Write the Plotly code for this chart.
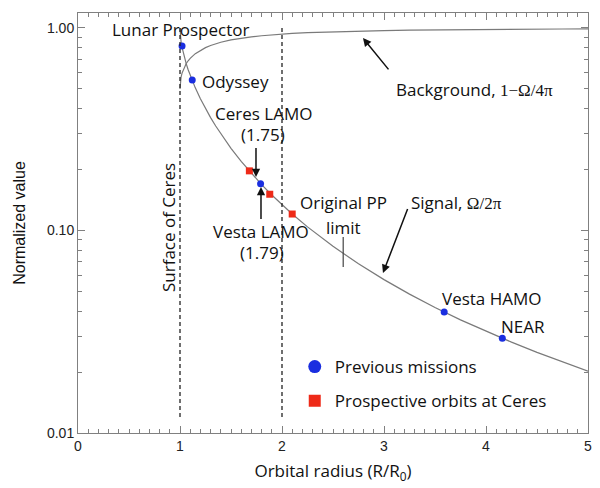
import math
import plotly.graph_objects as go

# ---- data ----
radius = [1.0, 1.003, 1.005, 1.01, 1.02, 1.04, 1.06, 1.08, 1.10, 1.15, 1.20, 1.25, 1.30, 1.35,
          1.40, 1.50, 1.60, 1.70, 1.80, 1.90, 2.00, 2.10, 2.25, 2.50, 2.75, 3.00, 3.25, 3.50,
          3.75, 4.00, 4.25, 4.50, 4.75, 5.00]
signal = [1.0, 0.9227, 0.9004, 0.8596, 0.8030, 0.7253, 0.6683, 0.6223, 0.5834, 0.5062, 0.4472,
          0.4000, 0.3610, 0.3282, 0.3001, 0.2546, 0.2194, 0.1913, 0.1685, 0.1497, 0.1340, 0.1207,
          0.1042, 0.0835, 0.0685, 0.0572, 0.0485, 0.0417, 0.0362, 0.0318, 0.0281, 0.0250,
          0.0224, 0.0202]
background = [0.5, 0.5386, 0.5498, 0.5702, 0.5985, 0.6373, 0.6658, 0.6889, 0.7083, 0.7469, 0.7764,
              0.8000, 0.8195, 0.8359, 0.8499, 0.8727, 0.8903, 0.9043, 0.9157, 0.9251, 0.9330,
              0.9397, 0.9479, 0.9583, 0.9658, 0.9714, 0.9757, 0.9792, 0.9819, 0.9841, 0.9860,
              0.9875, 0.9888, 0.9899]

mission_names = ["Lunar Prospector", "Odyssey", "Vesta LAMO", "Vesta HAMO", "NEAR"]
mission_r = [1.02, 1.12, 1.79, 3.59, 4.16]
mission_v = [0.815, 0.554, 0.170, 0.0396, 0.0294]

prospective_r = [1.68, 1.88, 2.10]
prospective_v = [0.197, 0.151, 0.1206]

ref_lines_r = [1, 2]            # dashed verticals (surface of Ceres, r = 2)
ref_line_y = [0.012, 1.0]
pp_limit_r = 2.6
pp_limit_y = [0.066, 0.0929]

x_ticks = [0, 1, 2, 3, 4, 5]
y_ticks = [0.01, 0.1, 1.0]
y_tick_text = ["0.01", "0.10", "1.00"]
y_minor = [0.02, 0.03, 0.04, 0.05, 0.06, 0.07, 0.08, 0.09,
           0.2, 0.3, 0.4, 0.5, 0.6, 0.7, 0.8, 0.9]

TXT = "Open Sans"
BLUE = "#1a2ee0"
RED = "#ee2a18"
LINE = "#7a7a7a"
AX = "#808080"

fig = go.Figure()

fig.add_trace(go.Scatter(x=radius, y=background, mode="lines",
                         line=dict(color=LINE, width=1.2), showlegend=False, hoverinfo="skip"))
fig.add_trace(go.Scatter(x=radius, y=signal, mode="lines",
                         line=dict(color=LINE, width=1.2), showlegend=False, hoverinfo="skip"))
fig.add_trace(go.Scatter(x=mission_r, y=mission_v, mode="markers", text=mission_names,
                         marker=dict(color=BLUE, size=7, symbol="circle"), showlegend=False))
fig.add_trace(go.Scatter(x=prospective_r, y=prospective_v, mode="markers",
                         marker=dict(color=RED, size=7, symbol="square"), showlegend=False))

# legend entries
fig.add_trace(go.Scatter(x=[None], y=[None], mode="markers", name="Previous missions",
                         legendgroup="a",
                         marker=dict(color=BLUE, size=13, symbol="circle")))
fig.add_trace(go.Scatter(x=[None], y=[None], mode="markers", name="Prospective orbits at Ceres",
                         legendgroup="b",
                         marker=dict(color=RED, size=12, symbol="square")))

# invisible trace on mirror axes (top / right ticks)
fig.add_trace(go.Scatter(x=[None], y=[None], xaxis="x2", yaxis="y2", showlegend=False,
                         hoverinfo="skip"))

# dashed vertical reference lines
for r in ref_lines_r:
    fig.add_shape(type="line", xref="x", yref="y", x0=r, x1=r,
                  y0=ref_line_y[0], y1=ref_line_y[1],
                  line=dict(color="#222", width=1.3, dash="4px,3px"))
fig.add_shape(type="line", xref="x", yref="y", x0=pp_limit_r, x1=pp_limit_r,
              y0=pp_limit_y[0], y1=pp_limit_y[1],
              line=dict(color="#444", width=1.2))

def label(text, x, ly, xanchor="center", angle=0, size=17):
    fig.add_annotation(x=x, y=ly, xref="x", yref="y", text=text, showarrow=False,
                       xanchor=xanchor, yanchor="middle", textangle=angle,
                       font=dict(family=TXT, size=size, color="#111"))

label("Lunar Prospector", 1.0, -0.0099)
label("Odyssey", 1.196, -0.262, xanchor="left")
label("Ceres LAMO", 1.814, -0.420)
label("(1.75)", 1.814, -0.528)
label("Vesta LAMO", 1.794, -1.007)
label("(1.79)", 1.804, -1.111)
label("Original PP", 2.598, -0.864)
label("limit", 2.598, -0.983)
SER = "font-family:'Liberation Serif'"
label("Signal, <span style=\"%s\">Ω/2π</span>" % SER, 3.706, -0.864)
label("Background, <span style=\"%s\">1−Ω/4π</span>" % SER, 3.892, -0.306)
label("Vesta HAMO", 4.059, -1.338)
label("NEAR", 4.363, -1.472)
label("Surface of Ceres", 0.882, -0.983, angle=-90)

def arrow(x, ly, ax, ay):
    fig.add_annotation(x=x, y=ly, xref="x", yref="y", ax=ax, ay=ay, text=" ",
                       font=dict(size=1), borderpad=0,
                       showarrow=True, arrowhead=2, arrowsize=1.1, arrowwidth=1.5,
                       arrowcolor="#111")

arrow(2.794, -0.0494, 26, 32)
arrow(2.99, -1.210, 25, -65)
arrow(1.745, -0.736, 0, -30)
arrow(1.794, -0.785, 0, 33)

xcommon = dict(range=[0, 5], tickvals=x_ticks, ticks="inside", ticklen=7, tickcolor=AX,
               showline=True, linecolor=AX, linewidth=1, showgrid=False, zeroline=False,
               minor=dict(ticks="inside", dtick=0.1, ticklen=4, tickcolor=AX, showgrid=False))
ycommon = dict(type="log", range=[-2, 0.074], tickvals=y_ticks, ticks="inside", ticklen=7,
               tickcolor=AX, showline=True, linecolor=AX, linewidth=1, showgrid=False,
               zeroline=False,
               minor=dict(ticks="inside", tickvals=y_minor, ticklen=4, tickcolor=AX,
                          showgrid=False))

fig.update_layout(
    xaxis=dict(**xcommon,
               tickfont=dict(family="Liberation Sans", size=14, color="#222"),
               title=dict(text="Orbital radius (R/R<sub>0</sub>)", standoff=12,
                          font=dict(family=TXT, size=17, color="#111"))),
    yaxis=dict(**ycommon, ticktext=y_tick_text,
               tickfont=dict(family="Liberation Sans", size=14, color="#222"),
               title=dict(text="Normalized value", standoff=17,
                          font=dict(family="Liberation Sans", size=16, color="#111"))),
    xaxis2=dict(**xcommon, overlaying="x", side="top", anchor="y2", showticklabels=False),
    yaxis2=dict(**ycommon, overlaying="y", side="right", anchor="x2", showticklabels=False),
)

fig.update_layout(width=592, height=480, margin=dict(l=70, r=12, t=5, b=55),
                  paper_bgcolor="white", plot_bgcolor="white",
                  legend=dict(x=0.425, y=0.20, xanchor="left", yanchor="top",
                              bgcolor="rgba(0,0,0,0)", traceorder="grouped",
                              tracegroupgap=9,
                              font=dict(family=TXT, size=17, color="#111")))

fig.write_html("out.html")
